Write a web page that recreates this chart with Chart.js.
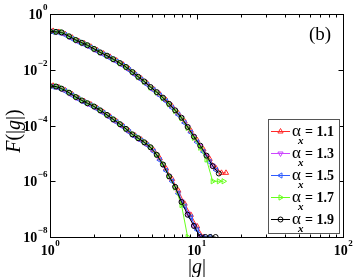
<!DOCTYPE html>
<html>
<head>
<meta charset="utf-8">
<script src="https://cdn.jsdelivr.net/npm/chart.js@4.4.1/dist/chart.umd.min.js"></script>
<style>
body{margin:0;background:#fff;}
#wrap{width:354px;height:277px;}
</style>
</head>
<body>
<div id="wrap"><canvas id="myChart" width="354" height="277"></canvas></div>
<script>
// values
var alphas = ['1.1', '1.3', '1.5', '1.7', '1.9'];
var xTicks = [1, 10, 100];
var yTicks = [1, 1e-2, 1e-4, 1e-6, 1e-8];

// |g| sample points: two interleaved grids (series do not share the same bins)
var gUpper = [1.0,1.1,1.2,1.35,1.5,1.65,1.8,2.0,2.2,2.45,2.7,3.0,3.3,3.65,4.0,4.4,4.85,5.35,5.9,6.5,7.15,7.9,8.7,9.6,10.6,11.7,12.9,14.2,15.3,16.4];
var gLower = [1.0,1.1,1.2,1.35,1.5,1.65,1.8,2.0,2.2,2.45,2.7,3.0,3.3,3.65,4.0,4.4,4.85,5.35,5.9,6.5,7.15,7.9,8.7,9.6,10.6,11.5,12.4,13.5];
var gAlt = [1.05,1.15,1.27,1.42,1.57,1.72,1.9,2.1,2.32,2.57,2.85,3.15,3.47,3.82,4.2,4.62,5.1,5.62,6.2,6.82,7.52,8.3,9.15,10.1,11.15,12.3,13.6,14.8,15.9];

// upper family F(|g|)
var up11 = [0.247,0.227,0.19,0.141,0.107,0.087,0.067,0.050,0.038,0.029,0.0212,0.0153,0.0106,0.0071,0.0048,0.0032,0.0020,0.00131,8.2e-4,4.9e-4,2.7e-4,1.39e-4,6.5e-5,3.0e-5,1.4e-5,6.3e-6,2.9e-6,2.0e-6,2.0e-6];
var up13 = [0.235,0.225,0.215,0.150,0.113,0.090,0.074,0.054,0.041,0.031,0.0235,0.0170,0.0123,0.0080,0.0055,0.0037,0.0023,0.00155,9.7e-4,5.8e-4,3.4e-4,1.85e-4,8.6e-5,3.8e-5,1.8e-5,7.8e-6,3.6e-6,null,null,null];
var up15 = [0.225,0.215,0.177,0.128,0.098,0.080,0.062,0.046,0.035,0.026,0.0195,0.0141,0.0097,0.0065,0.0044,0.0029,0.00186,0.00119,7.4e-4,4.3e-4,2.4e-4,1.23e-4,5.6e-5,2.5e-5,1.13e-5,4.9e-6,2.5e-6,null,null];
var up17 = [0.245,0.232,0.222,0.160,0.119,0.094,0.077,0.057,0.042,0.032,0.024,0.0172,0.0125,0.0082,0.0055,0.0037,0.0023,0.00152,9.6e-4,5.8e-4,3.3e-4,1.8e-4,8.2e-5,3.6e-5,1.6e-5,6.0e-6,1.0e-6,1.0e-6,1.0e-6,null];
var up19 = [0.240,0.229,0.219,0.158,0.117,0.093,0.076,0.056,0.042,0.032,0.024,0.0174,0.0126,0.0083,0.0056,0.0038,0.0024,0.00158,0.0010,6.0e-4,3.5e-4,1.9e-4,8.9e-5,4.0e-5,1.9e-5,8.3e-6,3.5e-6,1.9e-6,null,null];

// lower family
var lo11 = [2.67e-3,2.34e-3,1.83e-3,1.31e-3,9.5e-4,7.3e-4,5.7e-4,4.2e-4,3.0e-4,2.07e-4,1.41e-4,9.6e-5,6.3e-5,4.3e-5,3.1e-5,2.13e-5,1.3e-5,6.6e-6,2.85e-6,1.2e-6,4.6e-7,1.57e-7,6.2e-8,2.4e-8,1.0e-8,null,null,null,null];
var lo13 = [2.55e-3,2.45e-3,2.05e-3,1.45e-3,1.02e-3,7.7e-4,6.1e-4,4.7e-4,3.4e-4,2.35e-4,1.6e-4,1.1e-4,7.4e-5,4.7e-5,3.4e-5,2.4e-5,1.6e-5,8.6e-6,3.9e-6,1.5e-6,6.0e-7,1.9e-7,7.0e-8,2.6e-8,1.0e-8,null,null,null];
var lo15 = [2.45e-3,2.19e-3,1.7e-3,1.2e-3,8.7e-4,6.75e-4,5.25e-4,3.9e-4,2.8e-4,1.92e-4,1.31e-4,8.9e-5,5.8e-5,3.95e-5,2.85e-5,1.96e-5,1.17e-5,5.7e-6,2.4e-6,9.9e-7,3.6e-7,1.26e-7,5.1e-8,1.8e-8,1.0e-8,1.0e-8,null,null,null];
var lo17 = [2.65e-3,2.55e-3,2.15e-3,1.55e-3,1.08e-3,8.0e-4,6.4e-4,4.9e-4,3.55e-4,2.45e-4,1.68e-4,1.14e-4,7.7e-5,4.9e-5,3.6e-5,2.5e-5,1.7e-5,9.0e-6,4.1e-6,1.5e-6,6.0e-7,1.4e-7,1.0e-8,null,null,null,null,null];
var lo19 = [2.6e-3,2.5e-3,2.1e-3,1.5e-3,1.05e-3,7.9e-4,6.3e-4,4.8e-4,3.5e-4,2.4e-4,1.66e-4,1.12e-4,7.6e-5,4.8e-5,3.5e-5,2.5e-5,1.66e-5,8.9e-6,4.0e-6,1.5e-6,6.3e-7,1.8e-7,6.3e-8,2.5e-8,1.0e-8,1.0e-8,1.0e-8,1.0e-8];

var upper = [up11, up13, up15, up17, up19];
var lower = [lo11, lo13, lo15, lo17, lo19];
var upperX = [gAlt, gUpper, gAlt, gUpper, gUpper];
var lowerX = [gAlt, gLower, gAlt, gLower, gLower];
var colors = ['#ff2a2a', '#cc44ff', '#2f5cff', '#66ff1a', '#000000'];
var shapes = ['triangle', 'triangle', 'triangle', 'triangle', 'circle'];
var rotations = [0, 180, 270, 90, 0];

function pts(xs, ys) {
  var out = [];
  for (var i = 0; i < ys.length; i++) {
    if (ys[i] !== null) out.push({x: xs[i], y: ys[i]});
  }
  return out;
}

var datasets = [];
for (var s = 0; s < alphas.length; s++) {
  [pts(upperX[s], upper[s]), pts(lowerX[s], lower[s])].forEach(function(d) {
    datasets.push({
      label: alphas[s],
      data: d,
      borderColor: colors[s],
      backgroundColor: 'rgba(0,0,0,0)',
      borderWidth: 1,
      pointStyle: shapes[s],
      rotation: rotations[s],
      pointRadius: s === 4 ? 2.5 : 3,
      pointBorderWidth: 1,
      pointBorderColor: colors[s],
      pointBackgroundColor: 'rgba(0,0,0,0)',
      order: 5 - s,
      tension: 0
    });
  });
}

function pow10(ctx, exp, x, y, align) {
  ctx.font = 'bold 14px "Liberation Serif"';
  var wb = ctx.measureText('10').width;
  ctx.font = 'bold 9px "Liberation Serif"';
  var we = ctx.measureText(exp).width;
  var x0 = align === 'right' ? x - wb - we : x - (wb + we) / 2;
  ctx.textAlign = 'left';
  ctx.textBaseline = 'alphabetic';
  ctx.font = 'bold 14px "Liberation Serif"';
  ctx.fillText('10', x0, y);
  ctx.font = 'bold 9px "Liberation Serif"';
  ctx.fillText(exp, x0 + wb + 0.5, y - 9);
}

function pieces(ctx, parts, x, y) {
  var w = 0;
  parts.forEach(function(p) { ctx.font = p[1]; w += ctx.measureText(p[0]).width; });
  var cx = x - w / 2;
  parts.forEach(function(p) {
    ctx.font = p[1];
    ctx.fillText(p[0], cx, y);
    cx += ctx.measureText(p[0]).width;
  });
}

var frame = {
  id: 'frame',
  afterDatasetsDraw: function(chart) {
    var ctx = chart.ctx, a = chart.chartArea;
    var xs = chart.scales.x, ys = chart.scales.y;
    var L = Math.round(a.left) + 0.5, R = Math.round(a.right) + 0.5;
    var T = Math.round(a.top) + 0.5, B = Math.round(a.bottom) + 0.5;
    ctx.save();
    ctx.strokeStyle = '#000';
    ctx.lineWidth = 1;
    ctx.strokeRect(L, T, R - L, B - T);

    // ticks pointing in
    ctx.beginPath();
    for (var d = 1; d <= 10; d *= 10) {
      for (var k = 1; k <= 9; k++) {
        var px = Math.round(xs.getPixelForValue(d * k)) + 0.5;
        var len = k === 1 ? 5 : 3;
        ctx.moveTo(px, B); ctx.lineTo(px, B - len);
        ctx.moveTo(px, T); ctx.lineTo(px, T + len);
      }
    }
    yTicks.forEach(function(v) {
      var py = Math.round(ys.getPixelForValue(v)) + 0.5;
      ctx.moveTo(L, py); ctx.lineTo(L + 5, py);
      ctx.moveTo(R, py); ctx.lineTo(R - 5, py);
    });
    ctx.stroke();

    // tick labels
    ctx.fillStyle = '#000';
    xTicks.forEach(function(v) {
      pow10(ctx, String(Math.round(Math.log10(v))), xs.getPixelForValue(v), 255, 'center');
    });
    yTicks.forEach(function(v) {
      var e = Math.round(Math.log10(v));
      pow10(ctx, e === 0 ? '0' : '\u2212' + (-e), 47, ys.getPixelForValue(v) + 5, 'right');
    });

    // axis titles
    ctx.textAlign = 'left';
    ctx.textBaseline = 'alphabetic';
    pieces(ctx, [['|', '20px "Liberation Serif"'], ['g', 'italic 20px "Liberation Serif"'], ['|', '20px "Liberation Serif"']], 197, 273);
    ctx.save();
    ctx.translate(19.5, 131);
    ctx.rotate(-Math.PI / 2);
    pieces(ctx, [['F', 'italic 20px "Liberation Serif"'], ['(|', '20px "Liberation Serif"'], ['g', 'italic 20px "Liberation Serif"'], ['|)', '20px "Liberation Serif"']], 0, 0);
    ctx.restore();

    ctx.font = '19px "Liberation Serif"';
    ctx.textAlign = 'center';
    ctx.fillText('(b)', 320, 40);

    // legend
    ctx.fillStyle = '#fff';
    ctx.fillRect(268.5, 119.5, 71, 114);
    ctx.strokeStyle = '#555';
    ctx.strokeRect(268.5, 119.5, 71, 114);
    for (var i = 0; i < alphas.length; i++) {
      var ry = 131 + 22 * i;
      ctx.strokeStyle = colors[i];
      ctx.lineWidth = 1;
      ctx.beginPath();
      ctx.moveTo(271, ry + 0.5); ctx.lineTo(290, ry + 0.5);
      ctx.stroke();
      ctx.fillStyle = 'rgba(0,0,0,0)';
      Chart.helpers.drawPoint(ctx, {pointStyle: shapes[i], rotation: rotations[i], radius: i === 4 ? 2.5 : 3, borderWidth: 1}, 280.5, ry + 0.5);
      ctx.fillStyle = '#000';
      ctx.textAlign = 'left';
      ctx.font = '17px "Liberation Serif"';
      ctx.fillText('\u03b1', 292, ry + 5);
      ctx.font = 'italic bold 11px "Liberation Serif"';
      ctx.fillText('x', 298, ry + 13);
      ctx.font = 'bold 14px "Liberation Serif"';
      ctx.fillText('= ' + alphas[i], 305, ry + 5);
    }
    ctx.restore();
  }
};

var chart = new Chart(document.getElementById('myChart').getContext('2d'), {
  type: 'line',
  data: { datasets: datasets },
  options: {
    responsive: false,
    animation: false,
    events: [],
    layout: { padding: { left: 50, top: 14, right: 11, bottom: 40 } },
    plugins: { legend: { display: false }, tooltip: { enabled: false } },
    scales: {
      x: { type: 'logarithmic', min: 1, max: 100, display: false },
      y: { type: 'logarithmic', min: 1e-8, max: 1, display: false }
    }
  },
  plugins: [frame]
});
</script>
</body>
</html>
